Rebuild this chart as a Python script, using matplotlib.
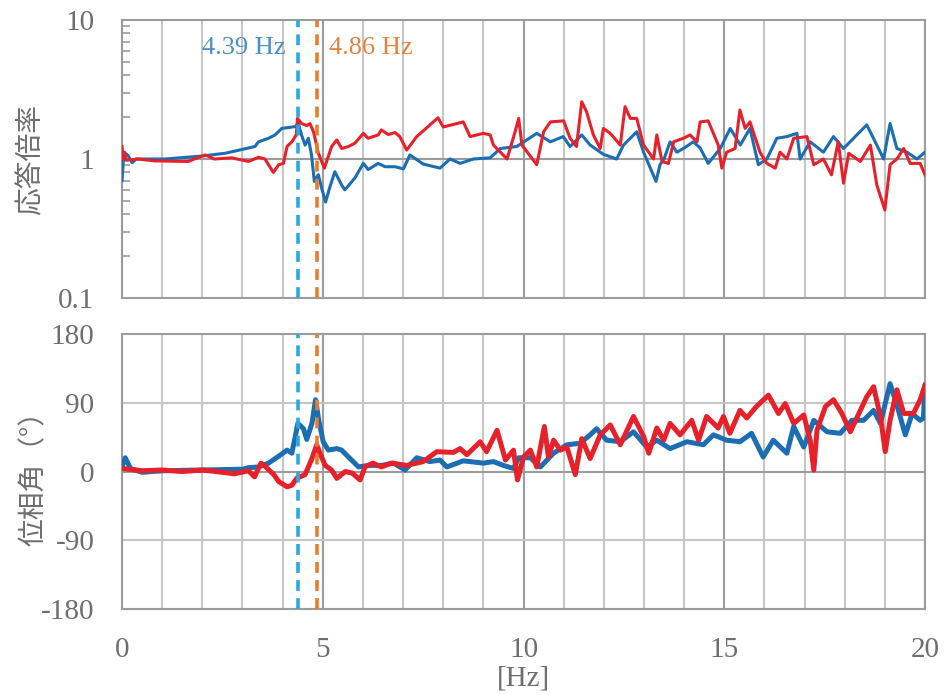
import matplotlib
matplotlib.use('Agg')
import matplotlib.pyplot as plt
from matplotlib.ticker import LogLocator, NullFormatter, FixedLocator


# Frequency response data (Hz, ratio / degrees)
freq_amp_blue = [0.00, 0.03, 0.08, 0.15, 0.25, 0.35, 1.07, 1.98, 2.57, 2.98, 3.31, 3.40, 3.65, 3.81, 3.98,
                 4.31, 4.39, 4.47, 4.56, 4.64, 4.72, 4.79, 4.89, 4.97, 5.07, 5.17, 5.30, 5.47, 5.55, 5.80,
                 6.01, 6.13, 6.38, 6.55, 6.80, 7.01, 7.17, 7.50, 7.92, 8.17, 8.42, 8.75, 9.17, 9.42, 9.83,
                 10.33, 10.67, 10.99, 11.16, 11.45, 11.66, 11.99, 12.32, 12.49, 12.82, 12.99, 13.30, 13.40,
                 13.50, 13.65, 13.82, 14.00, 14.23, 14.40, 14.60, 14.90, 15.15, 15.40, 15.64, 15.85, 16.06,
                 16.31, 16.56, 16.81, 16.89, 17.14, 17.47, 17.72, 17.97, 18.22, 18.55, 18.80, 18.97, 19.13,
                 19.30, 19.55, 19.80, 20.00]
amp_blue = [0.70, 0.96, 1.10, 1.06, 0.94, 1.00, 1.00, 1.05, 1.10, 1.17, 1.23, 1.33, 1.41, 1.49, 1.66,
            1.71, 1.80, 1.49, 1.26, 1.41, 1.07, 0.69, 0.77, 0.62, 0.49, 0.62, 0.81, 0.65, 0.60, 0.73,
            0.93, 0.84, 0.93, 0.88, 0.88, 0.85, 1.07, 0.92, 0.86, 1.00, 0.93, 1.00, 1.02, 1.19, 1.23,
            1.53, 1.33, 1.45, 1.23, 1.49, 1.26, 1.08, 1.00, 1.26, 1.57, 1.12, 0.69, 0.91,
            1.00, 1.33, 1.12, 1.20, 1.33, 1.20, 0.93, 1.19, 1.66, 1.26, 1.66, 0.91, 1.00,
            1.41, 1.45, 1.53, 1.00, 1.33, 1.12, 1.45, 1.19, 1.41, 1.76, 1.26, 1.00, 1.80,
            1.19, 1.12, 1.00, 1.12]

freq_amp_red = [0.00, 0.03, 0.06, 0.10, 0.40, 0.80, 1.64, 2.07, 2.30, 2.73, 3.15, 3.40, 3.56, 3.77, 3.90,
                4.02, 4.11, 4.23, 4.34, 4.37, 4.47, 4.60, 4.68, 4.77, 4.89, 5.04, 5.22, 5.35, 5.47, 5.64,
                5.80, 6.01, 6.13, 6.38, 6.46, 6.63, 6.80, 6.92, 7.09, 7.34, 7.67, 7.87, 8.00, 8.50, 8.67,
                9.00, 9.17, 9.25, 9.59, 9.79, 9.88, 9.96, 10.33, 10.50, 10.67, 11.00, 11.16, 11.32, 11.45,
                11.57, 11.74, 11.91, 11.99, 12.16, 12.41, 12.53, 12.66, 12.82, 12.99, 13.24, 13.32, 13.45,
                13.61, 13.74, 13.98, 14.15, 14.32, 14.40, 14.60, 14.85, 14.94, 15.06, 15.27, 15.39, 15.52,
                15.64, 15.89, 16.06, 16.27, 16.39, 16.56, 16.73, 17.06, 17.23, 17.47, 17.67, 17.84, 17.97,
                18.10, 18.39, 18.64, 18.80, 19.00, 19.13, 19.30, 19.47, 19.63, 19.88, 20.00]
amp_red = [1.23, 1.00, 1.12, 0.98, 1.00, 0.97, 0.96, 1.07, 1.00, 1.02, 0.96, 1.03, 1.00, 0.80, 0.91,
           0.93, 1.23, 1.33, 1.49, 1.96, 1.80, 1.74, 1.80, 1.57, 1.10, 0.86, 1.23, 1.37, 1.19, 1.23,
           1.30, 1.53, 1.41, 1.49, 1.62, 1.50, 1.55, 1.45, 1.16, 1.45, 1.76, 1.98, 1.70, 1.85, 1.45,
           1.53, 1.49, 1.26, 1.00, 1.57, 1.96, 1.26, 0.91, 1.57, 1.85, 1.88, 1.41, 1.23, 2.58,
           2.19, 1.49, 1.19, 1.66, 1.53, 1.26, 2.38, 1.96, 1.96, 1.26, 1.00, 1.49, 0.96,
           0.93, 1.33, 1.41, 1.49, 1.33, 1.85, 1.88, 1.26, 0.86, 1.12, 1.19, 2.25, 1.66,
           1.85, 1.12, 0.93, 0.86, 1.12, 1.00, 1.41, 1.45, 0.91, 1.00, 0.77, 1.33, 0.67,
           1.10, 0.96, 1.26, 0.65, 0.43, 0.91, 1.00, 1.19, 0.93, 0.93, 0.77]

freq_ph_blue = [0.00, 0.08, 0.21, 0.50, 1.00, 2.00, 3.00, 3.15, 3.40, 3.65, 3.90, 4.11, 4.23, 4.38, 4.52,
                4.60, 4.73, 4.82, 4.90, 5.01, 5.14, 5.35, 5.47, 5.64, 5.89, 6.13, 6.46, 6.76, 7.05, 7.34,
                7.67, 7.92, 8.09, 8.50, 9.00, 9.25, 9.50, 9.75, 9.88, 10.17, 10.42, 10.75, 11.08, 11.41,
                11.66, 11.82, 12.07, 12.41, 12.74, 13.07, 13.32, 13.65, 14.07, 14.48, 14.73, 15.06, 15.39,
                15.68, 15.97, 16.22, 16.56, 16.73, 16.98, 17.23, 17.56, 17.89, 18.18, 18.47, 18.72, 18.89,
                19.13, 19.30, 19.51, 19.68, 19.88, 19.96, 20.00]
ph_blue = [6, 18, 4, -1, 1, 2, 3, 5, 6, 11, 20, 28, 24, 63, 56,
           42, 63, 94, 67, 39, 28, 30, 28, 19, 6, 8, 8, 11, 2, 18,
           13, 15, 6, 14, 11, 13, 8, 4, 18, 18, 6, 24, 35, 37,
           48, 56, 41, 39, 52, 32, 41, 30, 39, 35, 48, 41, 39,
           50, 19, 41, 24, 59, 32, 67, 52, 50, 67, 67, 80, 63,
           115, 87, 48, 76, 67, 70, 111]

freq_ph_red = [0.00, 0.50, 1.00, 1.50, 2.00, 2.50, 2.80, 3.15, 3.30, 3.46, 3.58, 3.78, 3.90, 4.11, 4.23,
               4.35, 4.56, 4.73, 4.85, 4.93, 5.06, 5.22, 5.35, 5.56, 5.73, 5.93, 6.05, 6.25, 6.46, 6.71,
               7.09, 7.50, 7.84, 8.25, 8.42, 8.59, 8.92, 9.08, 9.34, 9.55, 9.75, 9.85, 10.00, 10.17, 10.33,
               10.52, 10.62, 10.75, 10.92, 11.08, 11.29, 11.45, 11.66, 11.91, 12.16, 12.41, 12.74, 12.99,
               13.12, 13.32, 13.49, 13.65, 13.90, 14.19, 14.36, 14.56, 14.85, 14.98, 15.14, 15.39, 15.56,
               15.80, 16.10, 16.35, 16.52, 16.73, 16.98, 17.14, 17.23, 17.31, 17.52, 17.72, 17.93, 18.14,
               18.39, 18.55, 18.72, 18.89, 19.01, 19.13, 19.30, 19.47, 19.71, 19.88, 20.00]
ph_red = [4, 1, 2, 0, 2, -1, -3, 1, -7, 11, 6, -4, -13, -20, -18,
          -9, -4, 17, 35, 24, 8, 2, -9, 0, -2, -11, 6, 11, 6, 11,
          8, 13, 26, 25, 30, 22, 39, 26, 54, 15, 28, -11, 19, 28, 6,
          59, 19, 41, 28, 32, -4, 43, 17, 48, 61, 35, 72, 46,
          24, 57, 41, 63, 48, 67, 41, 72, 57, 72, 50, 80, 70,
          85, 100, 76, 89, 63, 74, 41, 2, 54, 85, 94, 76, 52,
          80, 98, 111, 72, 26, 67, 107, 76, 76, 94, 113]

peak_blue = 4.39
peak_red = 4.86

BLUE = '#1b6db4'
RED = '#e8202a'
GRID_LIGHT = '#c6c6c6'
GRID_DARK = '#9c9c9c'
TEXT = '#6e6e6e'
serif = ['Liberation Serif', 'Noto Sans CJK JP']
jp = ['Noto Sans CJK JP', 'DejaVu Sans']

fig = plt.figure(figsize=(9.49, 6.95), dpi=100)
ax1 = fig.add_axes([0.1286, 0.5712, 0.8461, 0.4000])
ax2 = fig.add_axes([0.1286, 0.1237, 0.8461, 0.3957])


def style_axis(ax):
    ax.set_xlim(0, 20)
    ax.xaxis.set_major_locator(FixedLocator([0, 5, 10, 15, 20]))
    ax.xaxis.set_minor_locator(FixedLocator(range(1, 20)))
    ax.grid(True, axis='x', which='minor', color=GRID_LIGHT, lw=1.5)
    ax.grid(True, axis='x', which='major', color=GRID_DARK, lw=1.5)
    ax.tick_params(axis='x', which='both', length=0)
    for s in ax.spines.values():
        s.set_color(GRID_DARK)
        s.set_linewidth(1.5)
    ax.set_axisbelow(True)
    for lab in ax.get_yticklabels() + ax.get_xticklabels():
        lab.set_family(serif)
        lab.set_color(TEXT)
        lab.set_fontsize(21)


# Amplitude ratio (log scale)
ax1.plot(freq_amp_blue, amp_blue, color=BLUE, lw=2.2, zorder=3)
ax1.plot(freq_amp_red, amp_red, color=RED, lw=2.2, zorder=4)
ax1.set_yscale('log')
ax1.set_ylim(0.1, 10)
ax1.set_yticks([0.1, 1, 10])
ax1.set_yticklabels(['0.1', '1', '10'])
ax1.yaxis.set_minor_locator(LogLocator(base=10, subs=range(2, 10)))
ax1.yaxis.set_minor_formatter(NullFormatter())
ax1.tick_params(axis='y', which='major', length=0, pad=20)
ax1.tick_params(axis='y', which='minor', direction='in', length=6, width=1.2, color=GRID_DARK)
ax1.axhline(1, color=GRID_DARK, lw=1.5, zorder=1)
style_axis(ax1)
ax1.set_xticklabels([])
ax1.set_ylabel('応答倍率', family=jp, fontsize=20, color=TEXT, labelpad=9)

ax1.text(peak_blue - 0.31, 6.3, f'{peak_blue} Hz', color='#4a8fca', fontsize=19,
         family=serif, ha='right', va='center')
ax1.text(peak_red + 0.29, 6.3, f'{peak_red} Hz', color='#e8823a', fontsize=19,
         family=serif, ha='left', va='center')

# Phase angle
ax2.plot(freq_ph_blue, ph_blue, color=BLUE, lw=3.6, zorder=3)
ax2.plot(freq_ph_red, ph_red, color=RED, lw=3.6, zorder=4)
ax2.set_ylim(-180, 180)
ax2.set_yticks([-180, -90, 0, 90, 180])
ax2.set_yticklabels(['-180', '-90', '0', '90', '180'])
ax2.tick_params(axis='y', length=0, pad=20)
ax2.axhline(90, color=GRID_LIGHT, lw=1.5, zorder=1)
ax2.axhline(-90, color=GRID_LIGHT, lw=1.5, zorder=1)
ax2.axhline(0, color=GRID_DARK, lw=1.5, zorder=1)
style_axis(ax2)
ax2.tick_params(axis='x', pad=20)
ax2.set_ylabel('位相角（°）', family=jp, fontsize=20, color=TEXT, labelpad=-6)
ax2.set_xlabel('[Hz]', family=serif, fontsize=21, color=TEXT, labelpad=2)

# resonance markers
for ax in (ax1, ax2):
    ax.axvline(peak_blue, color='#29a9e1', lw=2.6, ls=(0, (3, 2)), zorder=5)
    ax.axvline(peak_red, color='#e87d2c', lw=2.6, ls=(0, (3, 2)), zorder=5)

fig.savefig('out.png', dpi=100)
